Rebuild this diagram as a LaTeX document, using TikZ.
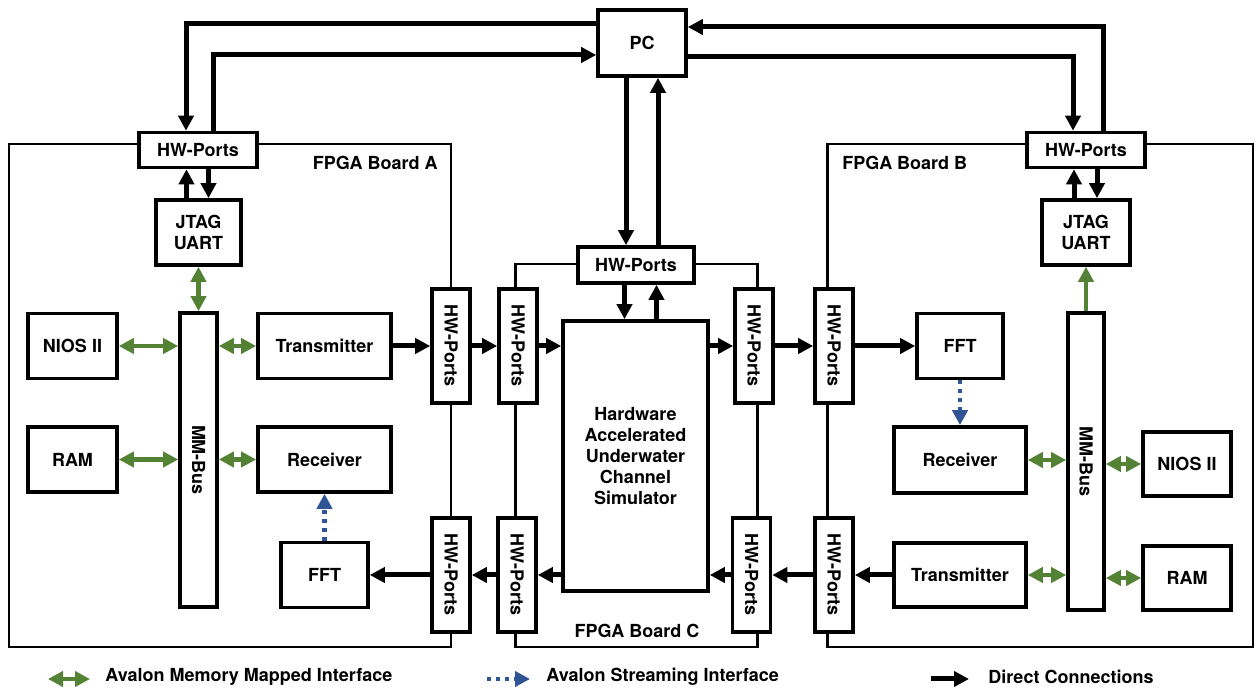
\documentclass[tikz,border=0pt]{standalone}
\usepackage{fontspec}
\setmainfont{TeX Gyre Heros}
\usepackage{tikz}
\usetikzlibrary{arrows.meta,positioning}
\definecolor{mmgreen}{HTML}{548235}
\definecolor{stblue}{HTML}{2F5597}
\newcommand{\vlabel}[1]{\rotatebox{-90}{#1}}
\tikzset{box/.style={draw, line width=1.8pt, fill=white, text centered, align=center, inner sep=1pt, minimum width=44.5pt, minimum height=32.5pt}}
\tikzset{hport/.style={box, minimum width=59pt, minimum height=17.5pt}}
\tikzset{vport/.style={box, minimum width=19pt, minimum height=57pt}}
\tikzset{board/.style={draw, line width=1.4pt}}
\tikzset{lbl/.style={inner sep=0pt}}
\tikzset{line/.style={draw, line width=2.5pt, -{Triangle[length=7.5pt,width=7.5pt]}}}
\tikzset{mm/.style={draw=mmgreen, line width=2.2pt, {Triangle[length=7.5pt,width=7.5pt]}-{Triangle[length=7.5pt,width=7.5pt]}}}
\tikzset{mmone/.style={draw=mmgreen, line width=2.2pt, -{Triangle[length=7.5pt,width=7.5pt]}}}
\tikzset{st/.style={draw=stblue, line width=2.4pt, dash pattern=on 2pt off 2.5pt, -{Triangle[length=7.5pt,width=7.5pt]}}}

\begin{document}
\begin{tikzpicture}[x=0.5pt,y=-0.5pt,font=\fontsize{9}{10.5}\selectfont\bfseries]
	\useasboundingbox (0,0) rectangle (1255,688);
	% boards
	\draw[board] (9,144) rectangle (451,647);
	\draw[board] (515.5,264) rectangle (757.5,647);
	\draw[board] (827.5,144) rectangle (1253,647);
	%
	\node [box, minimum width=44pt, minimum height=33pt]   (pc)    at (642,43)      {PC};
	\node [hport]                                          (pA)    at (198,150)     {HW-Ports};
	\node [hport]                                          (pB)    at (1086,150)    {HW-Ports};
	\node [hport, minimum width=58pt, minimum height=18pt] (pC)    at (636,265)     {HW-Ports};
	\node [box, minimum width=42.5pt]                      (jA)    at (198.5,232.5) {JTAG\\UART};
	\node [box, minimum width=44pt]                        (jB)    at (1086,232.5)  {JTAG\\UART};
	% board A
	\node [box, minimum width=18.5pt, minimum height=147pt] (busA) at (198.5,460)   {\vlabel{MM-Bus}};
	\node [box]                                            (niosA) at (72.5,346)    {NIOS II};
	\node [box]                                            (ramA)  at (72.5,459.5)  {RAM};
	\node [box, minimum width=66.5pt]                      (txA)   at (324.5,346)   {Transmitter};
	\node [box, minimum width=66.5pt]                      (rxA)   at (324.5,459.5) {Receiver};
	\node [box, minimum width=43.5pt]                      (fftA)  at (324.5,575)   {FFT};
	\node [vport]                                          (pA1)   at (451,346)     {\vlabel{HW-Ports}};
	\node [vport]                                          (pA2)   at (451,575)     {\vlabel{HW-Ports}};
	% board C
	\node [vport]                                          (pC1)   at (518,346)     {\vlabel{HW-Ports}};
	\node [vport]                                          (pC3)   at (517,575)     {\vlabel{HW-Ports}};
	\node [vport]                                          (pC2)   at (754,346)     {\vlabel{HW-Ports}};
	\node [vport]                                          (pC4)   at (751.5,575)   {\vlabel{HW-Ports}};
	\node [box, minimum width=72.5pt, minimum height=135pt] (sim)  at (635.5,456)   {Hardware\\Accelerated\\Underwater\\Channel\\Simulator};
	% board B
	\node [vport]                                          (pB1)   at (834,346)     {\vlabel{HW-Ports}};
	\node [vport]                                          (pB2)   at (834,575)     {\vlabel{HW-Ports}};
	\node [box, minimum width=43pt]                        (fftB)  at (960,346)     {FFT};
	\node [box, minimum width=66pt, minimum height=33pt]   (rxB)   at (960,460)     {Receiver};
	\node [box, minimum width=66pt, minimum height=32pt]   (txB)   at (960,575)     {Transmitter};
	\node [box, minimum width=18pt, minimum height=148.5pt] (busB) at (1086,461.5)  {\vlabel{MM-Bus}};
	\node [box, minimum width=44pt, minimum height=32pt]   (niosB) at (1187,464)    {NIOS II};
	\node [box, minimum width=44pt, minimum height=32pt]   (ramB)  at (1187,578)    {RAM};
	%
	\node [lbl, anchor=east] (lblA) at (438,163) {FPGA Board A};
	\node [lbl, anchor=west] (lblB) at (842,163) {FPGA Board B};
	\node [lbl]              (lblC) at (637,631) {FPGA Board C};
	%
	\path [line] ([yshift=9.5pt]pc.west) -| ([xshift=-6pt]pA.north);
	\path [line] ([xshift=7.5pt]pA.north) |- ([yshift=-6pt]pc.west);
	\path [line] ([xshift=8.5pt]pB.north) |- ([yshift=8pt]pc.east);
	\path [line] ([yshift=-7pt]pc.east) -| ([xshift=-6.5pt]pB.north);
	\path [line] ([xshift=-8pt]pc.south) -- ([xshift=-8pt]pc.south |- pC.north);
	\path [line] ([xshift=8pt]pc.south |- pC.north) -- ([xshift=8pt]pc.south);
	\path [line] ([xshift=-5.5pt]sim.north |- pC.south) -- ([xshift=-5.5pt]sim.north);
	\path [line] ([xshift=10.5pt]sim.north) -- ([xshift=10.5pt]sim.north |- pC.south);
	\path [line] ([xshift=-6pt]jA.north) -- ([xshift=-6pt]jA.north |- pA.south);
	\path [line] ([xshift=5pt]jA.north |- pA.south) -- ([xshift=5pt]jA.north);
	\path [line] ([xshift=-6pt]jB.north) -- ([xshift=-6pt]jB.north |- pB.south);
	\path [line] ([xshift=5.5pt]jB.north |- pB.south) -- ([xshift=5.5pt]jB.north);
	%
	\path [line] (txA) -- (pA1);
	\path [line] (pA1) -- (pC1);
	\path [line] (pC1.east) -- (pC1.east -| sim.west);
	\path [line] (pC2.west -| sim.east) -- (pC2.west);
	\path [line] (pC2) -- (pB1);
	\path [line] (pB1) -- (fftB);
	\path [line] (txB) -- (pB2);
	\path [line] (pB2) -- (pC4);
	\path [line] (pC4.west) -- (pC4.west -| sim.east);
	\path [line] (sim.west |- pC3.east) -- (pC3.east);
	\path [line] (pC3) -- (pA2);
	\path [line] (pA2) -- (fftA);
	%
	\path [mm] (jA) -- (busA);
	\path [mm] (niosA.east) -- (niosA.east -| busA.west);
	\path [mm] (ramA.east) -- (ramA.east -| busA.west);
	\path [mm] (txA.west) -- (txA.west -| busA.east);
	\path [mm] (rxA.west) -- (rxA.west -| busA.east);
	\path [mmone] (busB) -- (jB);
	\path [mm] (rxB.east) -- (rxB.east -| busB.west);
	\path [mm] (txB.east) -- (txB.east -| busB.west);
	\path [mm] (niosB.west) -- (niosB.west -| busB.east);
	\path [mm] (ramB.west) -- (ramB.west -| busB.east);
	%
	\path [st] (fftA) -- (rxA);
	\path [st] (fftB) -- (rxB);
	% legend
	\coordinate (lg1s) at (48,679);
	\coordinate (lg1e) at (90,679);
	\coordinate (lg2s) at (487,679);
	\coordinate (lg2e) at (530,679);
	\coordinate (lg3s) at (931,679);
	\coordinate (lg3e) at (969,679);
	\path [mm] (lg1s) -- (lg1e);
	\path [st] (lg2s) -- (lg2e);
	\path [line] (lg3s) -- (lg3e);
	\node [lbl, anchor=west] (lg1) at (105,677) {Avalon Memory Mapped Interface};
	\node [lbl, anchor=west] (lg2) at (546,677) {Avalon Streaming Interface};
	\node [lbl, anchor=west] (lg3) at (988,677) {Direct Connections};
\end{tikzpicture}
\end{document}
